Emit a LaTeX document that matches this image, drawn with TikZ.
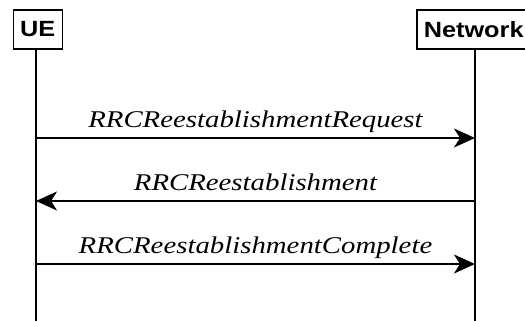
\documentclass[tikz,border=0pt]{standalone}
\usepackage{fontspec}
\setmainfont{Liberation Serif}
\setsansfont{Liberation Sans}
\usetikzlibrary{arrows.meta}
\newcommand{\wideA}[1]{\scalebox{1.15}[1]{#1}}
\newcommand{\wideB}[1]{\scalebox{1.2}[1]{#1}}
\begin{document}
\begin{tikzpicture}[x=1pt,y=-1pt,
  entity/.style={draw,line width=1.6pt,font=\sffamily\bfseries\fontsize{22}{22}\selectfont,inner sep=0pt,minimum height=39pt,anchor=north west},
  life/.style={line width=1.6pt},
  msg/.style={line width=1.6pt,-{Stealth[length=21pt,width=19pt,inset=6pt]}},
  lbl/.style={font=\itshape\fontsize{24}{24}\selectfont,inner sep=0pt,anchor=base}]
\useasboundingbox (0,0) rectangle (525,321);
\clip (0,0) rectangle (525,321);
\node[entity,minimum width=49pt] (ue) at (12.5,9) {\wideA{UE}};
\node[entity,minimum width=125pt,text width=121pt,align=left] (nw) at (416,9) {\hspace*{5pt}\wideA{Network}};
\coordinate (ueb) at (36,321);
\coordinate (nwb) at (475,321);
\coordinate (nwt) at (475,48);
\coordinate (uet) at (36,48);
\draw[life] (uet) -- (ueb);
\draw[life] (nwt) -- (nwb);
\coordinate (a1) at (36,138); \coordinate (b1) at (475,138);
\coordinate (a2) at (36,201); \coordinate (b2) at (475,201);
\coordinate (a3) at (36,264); \coordinate (b3) at (475,264);
\draw[msg] (a1) -- (b1);
\draw[msg] (b2) -- (a2);
\draw[msg] (a3) -- (b3);
\node[lbl] (l1) at (255.5,127) {\wideB{RRCReestablishmentRequest}};
\node[lbl] (l2) at (255.5,190) {\wideB{RRCReestablishment}};
\node[lbl] (l3) at (255.5,253) {\wideB{RRCReestablishmentComplete}};
\end{tikzpicture}
\end{document}
